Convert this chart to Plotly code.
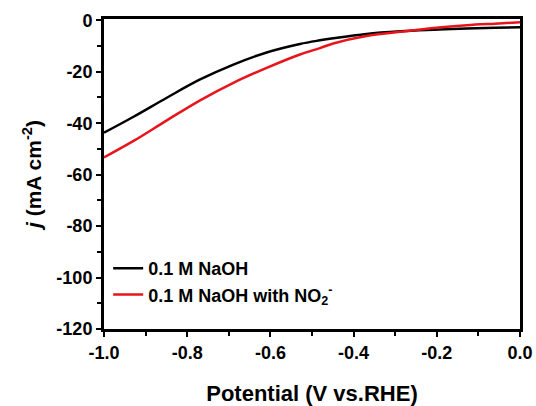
import plotly.graph_objects as go

# Data
potential = [-1.0, -0.929, -0.849, -0.769, -0.689, -0.609, -0.529, -0.481, -0.449, -0.369, -0.288, -0.208, -0.128, -0.06, 0.0]
j_naoh = [-43.7, -37.5, -30.1, -23.0, -17.2, -12.5, -9.2, -7.8, -7.0, -5.3, -4.3, -3.7, -3.2, -2.9, -2.7]
j_no2 = [-53.3, -46.9, -38.9, -31.1, -24.3, -18.5, -13.3, -10.8, -9.0, -6.1, -4.5, -3.0, -1.9, -1.3, -0.8]

series_names = ["0.1 M NaOH", "0.1 M NaOH with NO<sub>2</sub><sup>-</sup>"]
series_colors = ["#000000", "#e8141c"]

x_tickvals = [-1.0, -0.8, -0.6, -0.4, -0.2, 0.0]
x_ticktext = ["-1.0", "-0.8", "-0.6", "-0.4", "-0.2", "0.0"]
y_tickvals = [0, -20, -40, -60, -80, -100, -120]
y_ticktext = ["0", "-20", "-40", "-60", "-80", "-100", "-120"]

FONT = "Liberation Sans, Arial, sans-serif"

fig = go.Figure()
for yv, name, col in zip([j_naoh, j_no2], series_names, series_colors):
    fig.add_trace(go.Scatter(x=potential, y=yv, mode="lines", name=name,
                             line=dict(color=col, width=2.5, shape="spline", smoothing=1.0)))

axis_common = dict(
    showline=True, linewidth=3, linecolor="black", mirror=True,
    ticks="outside", ticklen=5, tickwidth=2, tickcolor="black",
    showgrid=False, zeroline=False, automargin=False,
    tickfont=dict(family=FONT, size=18, color="black", weight="bold"),
)

fig.update_xaxes(
    range=[-1.0, 0.0], tickmode="array", tickvals=x_tickvals, ticktext=x_ticktext,
    minor=dict(ticks="outside", ticklen=4, tickwidth=2, tickcolor="black", dtick=0.1, tick0=0),
    title=dict(text="Potential (V vs.RHE)", font=dict(family=FONT, size=22, color="black", weight="bold"), standoff=26),
    **axis_common,
)
fig.update_yaxes(
    range=[-120, 0.5], tickmode="array", tickvals=y_tickvals, ticktext=y_ticktext,
    minor=dict(ticks="outside", ticklen=4, tickwidth=2, tickcolor="black", dtick=10, tick0=0),
    title=dict(text="<i>j</i> (mA cm<sup>-2</sup>)", font=dict(family=FONT, size=21, color="black", weight="bold"), standoff=10),
    **axis_common,
)

fig.update_layout(
    width=536, height=406,
    margin=dict(l=104, r=16, t=19, b=77),
    paper_bgcolor="white", plot_bgcolor="white",
    showlegend=True,
    legend=dict(x=0.01, y=0.255, xanchor="left", yanchor="top",
                bgcolor="rgba(0,0,0,0)", borderwidth=0,
                font=dict(family=FONT, size=18, color="black", weight="bold"),
                tracegroupgap=0, itemwidth=30),
)

fig.write_html("out.html")
